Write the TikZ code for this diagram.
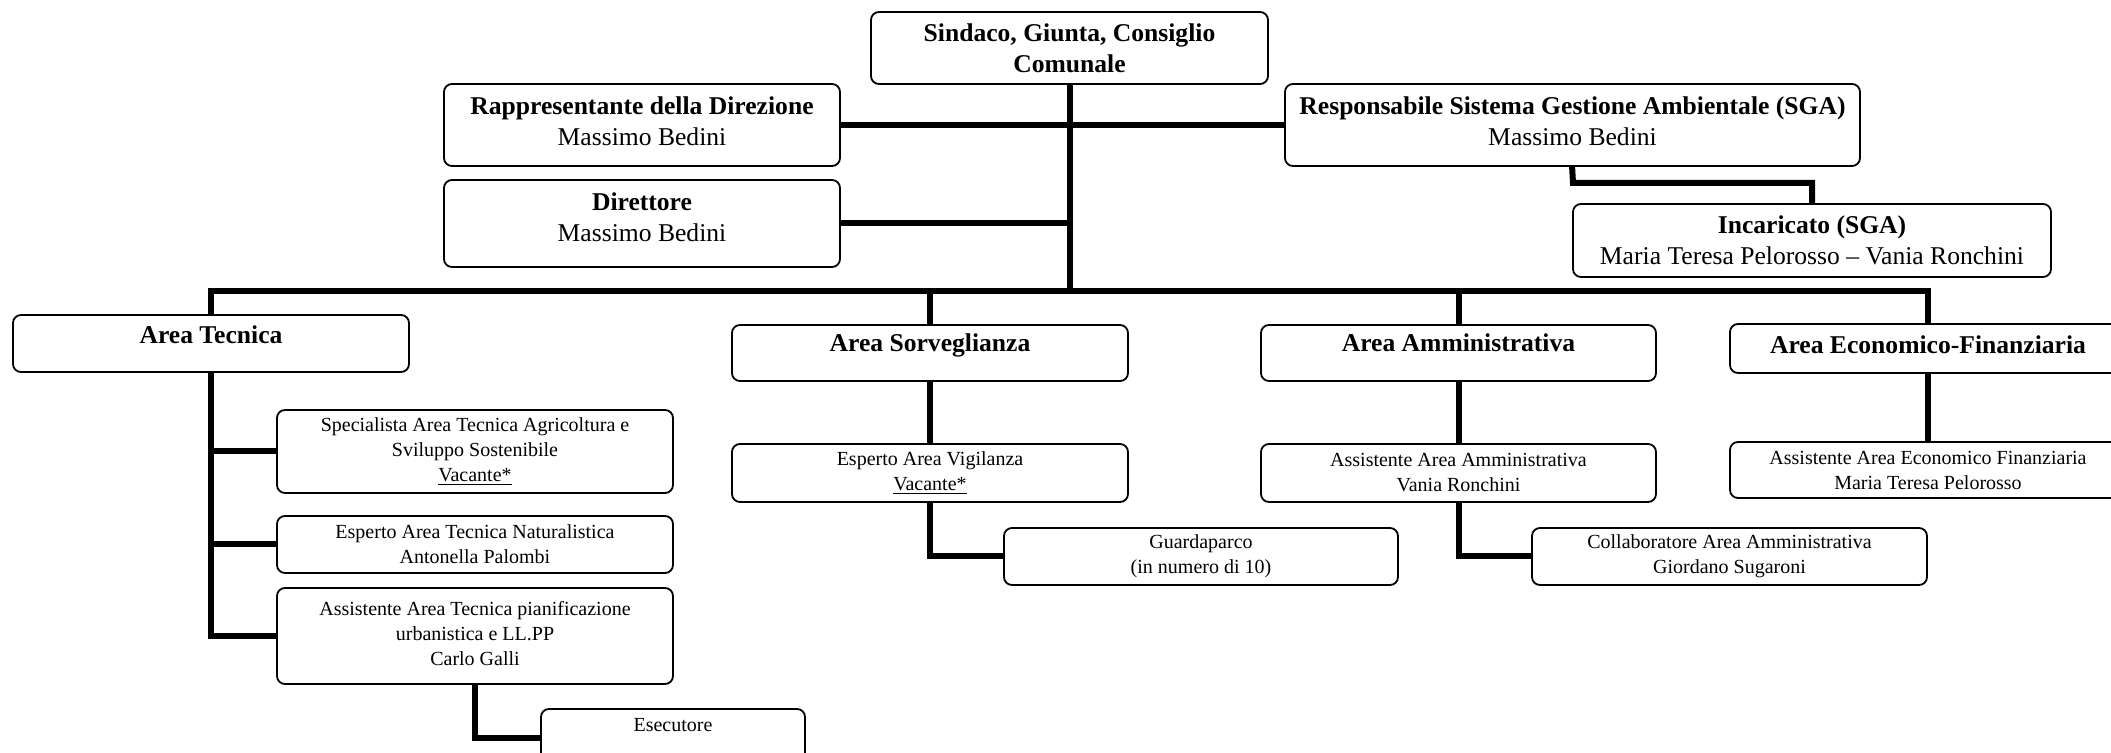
\documentclass[tikz,border=0pt]{standalone}
\usepackage{fontspec}
\setmainfont{Liberation Serif}
\tikzset{
  box/.style={draw, line width=0.9pt, rounded corners=4pt, align=center, inner sep=1pt},
  bigbox/.style={box, font=\fontsize{12.8}{15.5}\selectfont},
  smallbox/.style={box, font=\fontsize{10}{12.5}\selectfont},
  boxsize/.style 2 args={minimum width=#1*0.5pt, minimum height=#2*0.5pt},
  link/.style={line width=3pt},
}

\begin{document}
\begin{tikzpicture}[x=0.5pt, y=-0.5pt]
  \clip (0,0) rectangle (2111,753);
  % vertice
  \node[bigbox, boxsize={397}{72}] (sindaco) at (1069.5,48) {\textbf{Sindaco, Giunta, Consiglio}\\\textbf{Comunale}};
  \node[bigbox, boxsize={396}{82}, text depth=4.2pt] (rapp) at (642,125) {\textbf{Rappresentante della Direzione}\\Massimo Bedini};
  \node[bigbox, boxsize={396}{87}, text depth=6.7pt] (dir) at (642,223.5) {\textbf{Direttore}\\Massimo Bedini};
  \node[bigbox, boxsize={575}{82}, text depth=4.2pt] (resp) at (1572.5,125) {\textbf{Responsabile Sistema Gestione Ambientale (SGA)}\\Massimo Bedini};
  \node[bigbox, boxsize={478}{73}] (inc) at (1812,240.5) {\textbf{Incaricato (SGA)}\\Maria Teresa Pelorosso -- Vania Ronchini};
  % aree
  \node[bigbox, boxsize={396}{57}, text depth=8.7pt] (atec) at (211,343.5) {\textbf{Area Tecnica}};
  \node[bigbox, boxsize={396}{56}, text depth=10.2pt] (asorv) at (930,353) {\textbf{Area Sorveglianza}};
  \node[bigbox, boxsize={395}{56}, text depth=10.2pt] (aamm) at (1458.5,353) {\textbf{Area Amministrativa}};
  \node[bigbox, boxsize={396}{49}, text depth=3.7pt] (aeco) at (1928,348.5) {\textbf{Area Economico-Finanziaria}};
  % uffici
  \node[smallbox, boxsize={396}{83}] (spec) at (475,451.5) {Specialista Area Tecnica Agricoltura e\\Sviluppo Sostenibile\\\underline{Vacante*}};
  \node[smallbox, boxsize={396}{57}] (espnat) at (475,544.5) {Esperto Area Tecnica Naturalistica\\Antonella Palombi};
  \node[smallbox, boxsize={396}{96}, text depth=2.7pt] (assat) at (475,636) {Assistente Area Tecnica pianificazione\\urbanistica e LL.PP\\Carlo Galli};
  \node[smallbox, boxsize={264}{57}] (esec) at (673,737.5) {Esecutore\\\mbox{}};
  \node[smallbox, boxsize={396}{58}] (espvig) at (930,473) {Esperto Area Vigilanza\\\underline{Vacante*}};
  \node[smallbox, boxsize={394}{57}] (guard) at (1201,556.5) {Guardaparco\\(in numero di 10)};
  \node[smallbox, boxsize={395}{58}] (assamm) at (1458.5,473) {Assistente Area Amministrativa\\Vania Ronchini};
  \node[smallbox, boxsize={395}{57}] (coll) at (1729.5,556.5) {Collaboratore Area Amministrativa\\Giordano Sugaroni};
  \node[smallbox, boxsize={396}{56}] (asseco) at (1928,470) {Assistente Area Economico Finanziaria\\Maria Teresa Pelorosso};
  % collegamenti
  \coordinate (bus) at (0,291);
  \coordinate (sgaknee) at (1573,183);
  \draw[link] (sindaco.south) -- (sindaco.south |- bus);
  \draw[link] (rapp.east) -- (resp.west);
  \draw[link] (dir.east) -- (dir.east -| sindaco.south);
  \draw[link] (resp.south -| inc.west) -- (sgaknee) -| (inc.north);
  \draw[link] (atec.north) |- (bus -| aeco.north) -- (aeco.north);
  \foreach \nd in {asorv,aamm}
    \draw[link] (\nd.north) -- (\nd.north |- bus);
  \draw[link] (atec.south) |- (assat.west);
  \foreach \nd in {spec,espnat}
    \draw[link] (atec.south |- \nd.west) -- (\nd.west);
  \draw[link] (assat.south) |- (esec.west);
  \draw[link] (asorv.south) -- (espvig.north);
  \draw[link] (espvig.south) |- (guard.west);
  \draw[link] (aamm.south) -- (assamm.north);
  \draw[link] (assamm.south) |- (coll.west);
  \draw[link] (aeco.south) -- (asseco.north);
\end{tikzpicture}
\end{document}
